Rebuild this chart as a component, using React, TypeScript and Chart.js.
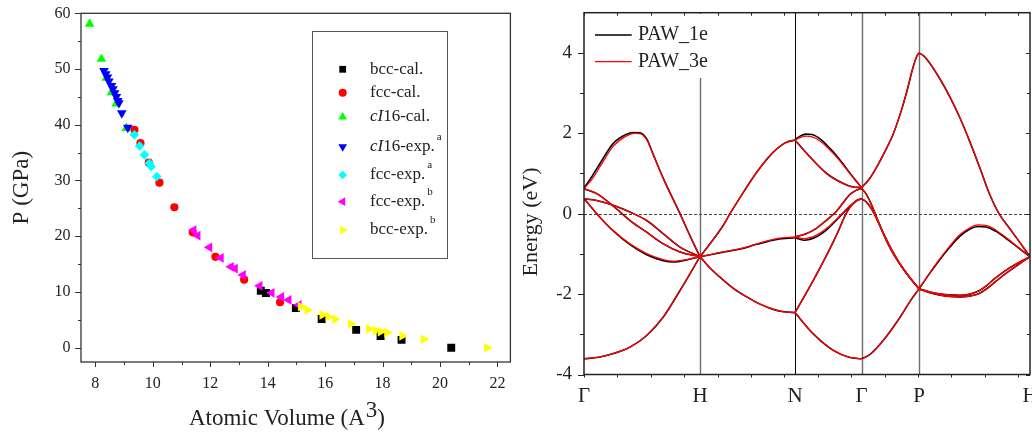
import React, { useEffect, useRef } from 'react';
import { Chart, registerables } from 'chart.js';

Chart.register(...registerables);

const FONT = '"Liberation Serif", "Times New Roman", serif';

// ---------------- Left panel: P vs atomic volume ----------------
const volTicks = [8, 10, 12, 14, 16, 18, 20, 22];
const pressureTicks = [0, 10, 20, 30, 40, 50, 60];

const bccCalV = [13.76, 13.94, 14.98, 15.88, 17.08, 17.93, 18.66, 20.39];
const bccCalP = [10.2, 9.8, 7.1, 5.15, 3.2, 2.1, 1.4, 0.0];
const fccCalV = [9.36, 9.57, 9.86, 10.23, 10.75, 11.39, 12.18, 13.18, 14.43];
const fccCalP = [39.1, 36.7, 33.2, 29.6, 25.2, 20.7, 16.3, 12.2, 8.15];
const cI16CalV = [7.8, 8.21, 8.38, 8.56, 8.73, 9.08];
const cI16CalP = [58.1, 51.8, 48.4, 45.8, 43.8, 39.4];
const cI16ExpV = [8.3, 8.36, 8.42, 8.47, 8.56, 8.61, 8.67, 8.73, 8.78, 8.82, 8.92, 9.13];
const cI16ExpP = [49.7, 49.1, 48.5, 47.8, 47.0, 46.4, 45.7, 45.0, 44.3, 43.9, 42.1, 39.5];
const fccExpAV = [9.36, 9.54, 9.71, 9.88, 9.94, 10.14];
const fccExpAP = [38.2, 36.2, 34.6, 33.1, 32.5, 30.7];
const fccExpBV = [11.42, 11.56, 11.97, 12.37, 12.72, 12.86, 13.14, 13.72, 14.14, 14.47, 14.73, 15.08];
const fccExpBP = [21.1, 20.1, 18.0, 16.1, 14.5, 14.2, 13.05, 11.1, 9.85, 9.1, 8.56, 7.67];
const bccExpBV = [15.15, 15.38, 15.9, 16.11, 16.34, 16.89, 17.52, 17.75, 17.93, 18.16, 18.68, 19.43, 21.63];
const bccExpBP = [7.37, 6.77, 5.87, 5.57, 5.1, 4.25, 3.36, 3.05, 2.87, 2.69, 2.1, 1.5, 0.0];

const seriesNames = ['bcc-cal.', 'fcc-cal.', 'cI16-cal.', 'cI16-exp.', 'fcc-exp.', 'fcc-exp.', 'bcc-exp.'];
const seriesSups = ['', '', '', 'a', 'a', 'b', 'b'];

// ---------------- Right panel: band structure ----------------
const kPos = [0, 116, 211, 277.5, 335, 446];
const kLabels = ['Γ', 'H', 'N', 'Γ', 'P', 'H'];
const energyTicks = [-4, -2, 0, 2, 4];

// Γ–H
const bandGH1 = [[0, -3.61], [15, -3.57], [29.3, -3.48], [46, -3.32], [62.7, -3.03], [79.3, -2.57], [96, -1.91], [116, -1.07]];
const bandGH2 = [[0, 0.37], [6, 0.2], [12.7, 0.0], [29.3, -0.42], [46, -0.75], [62.7, -0.99], [79.3, -1.14], [89.3, -1.18], [102.7, -1.14], [116, -1.07]];
const bandGH2_1e = [[0, 0.37], [6, 0.2], [12.7, 0.0], [29.3, -0.43], [46, -0.77], [62.7, -1.02], [79.3, -1.17], [89.3, -1.2], [102.7, -1.15], [116, -1.07]];
const bandGH3 = [[0, 0.62], [12.7, 0.5], [29.3, 0.19], [46, -0.17], [62.7, -0.46], [79.3, -0.75], [96, -0.95], [116, -1.07]];
const bandGH4 = [[0, 0.37], [12.7, 0.33], [29.3, 0.21], [46, 0.04], [62.7, -0.17], [79.3, -0.5], [96, -0.83], [116, -1.07]];
const bandGH5 = [[0, 0.62], [8, 0.86], [16, 1.17], [29.3, 1.68], [42, 1.93], [50, 2.0], [56, 1.99], [62.7, 1.84], [69.3, 1.46], [79.3, 0.87], [96, 0.0], [106, -0.55], [116, -1.07]];
const bandGH5_1e = [[0, 0.64], [8, 0.93], [16, 1.25], [29.3, 1.75], [42, 1.97], [50, 2.02], [56, 2.01], [62.7, 1.86], [69.3, 1.47], [79.3, 0.88], [96, 0.0], [106, -0.55], [116, -1.07]];
// H–N
const bandHN1 = [[116, -1.07], [126, -0.75], [139, -0.3], [146, 0.0], [156, 0.4], [172.7, 1.03], [189.3, 1.53], [202.7, 1.78], [211, 1.83]];
const bandHN2 = [[116, -1.07], [139, -0.95], [156, -0.87], [173, -0.75], [193, -0.62], [211, -0.58]];
const bandHN2_1e = [[116, -1.07], [139, -0.96], [156, -0.88], [173, -0.76], [193, -0.64], [211, -0.6]];
const bandHN3 = [[116, -1.07], [126, -1.35], [136, -1.58], [149, -1.85], [162.7, -2.07], [176, -2.25], [189.3, -2.38], [200, -2.44], [211, -2.46]];
// N–Γ
const bandNG1 = [[211, 1.83], [216, 1.89], [222, 1.93], [228, 1.91], [236, 1.81], [245, 1.61], [254, 1.37], [262, 1.12], [270, 0.87], [277.5, 0.65]];
const bandNG1_1e = [[211, 1.84], [216, 1.93], [222, 1.98], [228, 1.97], [236, 1.86], [245, 1.65], [254, 1.4], [262, 1.14], [270, 0.88], [277.5, 0.65]];
const bandNG2 = [[211, 1.83], [226, 1.41], [242.7, 1.0], [259.3, 0.75], [268, 0.67], [277.5, 0.65]];
const bandNG3 = [[211, -0.58], [222, -0.5], [232, -0.37], [242, -0.17], [252, 0.05], [260, 0.3], [266, 0.48], [272, 0.58], [277.5, 0.63]];
const bandNG4 = [[211, -0.58], [220, -0.62], [232, -0.54], [244, -0.34], [254, -0.1], [262, 0.1], [268, 0.24], [273, 0.33], [277.5, 0.37]];
const bandNG4_1e = [[211, -0.6], [220, -0.66], [232, -0.58], [244, -0.37], [254, -0.12], [262, 0.09], [268, 0.23], [273, 0.33], [277.5, 0.37]];
const bandNG5 = [[211, -2.46], [220, -2.07], [229.3, -1.66], [244.3, -0.95], [254, -0.45], [262, 0.0], [268, 0.22], [273, 0.33], [277.5, 0.37]];
const bandNG6 = [[211, -2.46], [229.3, -2.99], [249.3, -3.4], [265, -3.57], [277.5, -3.61]];
// Γ–P
const bandGP1 = [[277.5, 0.65], [285, 0.85], [292.7, 1.16], [301, 1.55], [309.3, 1.99], [318, 2.62], [324, 3.15], [328, 3.55], [331, 3.8], [333.5, 3.95], [335, 4.0]];
const bandGP2 = [[277.5, -3.61], [285, -3.52], [292.7, -3.34], [301, -3.1], [309.3, -2.82], [318, -2.5], [326, -2.18], [335, -1.87]];
const bandGP3 = [[277.5, 0.63], [282, 0.5], [287, 0.25], [292, -0.05], [298, -0.42], [306, -0.85], [315, -1.22], [325, -1.56], [335, -1.87]];
const bandGP4 = [[277.5, 0.37], [282, 0.3], [288, 0.1], [295, -0.25], [302, -0.62], [310, -1.0], [320, -1.4], [328, -1.66], [335, -1.87]];
// P–H
const bandPH1 = [[335, 4.0], [340, 3.92], [347, 3.7], [356, 3.35], [366, 2.9], [376, 2.38], [386, 1.78], [396, 1.13], [405, 0.52], [415, 0.0], [426, -0.38], [436, -0.72], [446, -1.07]];
const bandPH2 = [[335, -1.87], [345, -1.5], [355, -1.15], [366, -0.8], [376, -0.52], [386, -0.35], [394, -0.28], [402, -0.29], [412, -0.41], [424, -0.63], [435, -0.85], [446, -1.07]];
const bandPH2_1e = [[335, -1.87], [345, -1.51], [355, -1.17], [366, -0.83], [376, -0.56], [386, -0.38], [394, -0.32], [402, -0.33], [412, -0.44], [424, -0.65], [435, -0.86], [446, -1.07]];
const bandPH3 = [[335, -1.87], [345, -1.96], [355, -2.02], [366, -2.06], [376, -2.07], [386, -2.05], [394, -2.0], [402, -1.88], [410, -1.72], [420, -1.52], [433, -1.29], [446, -1.07]];
const bandPH4 = [[335, -1.87], [345, -1.94], [355, -1.99], [366, -2.02], [376, -2.03], [386, -2.0], [394, -1.93], [402, -1.8], [410, -1.63], [420, -1.44], [433, -1.24], [446, -1.07]];

const paw3eBands = [bandGH1, bandGH2, bandGH3, bandGH4, bandGH5, bandHN1, bandHN2, bandHN3, bandNG1, bandNG2, bandNG3, bandNG4, bandNG5, bandNG6, bandGP1, bandGP2, bandGP3, bandGP4, bandPH1, bandPH2, bandPH3, bandPH4];
const paw1eBands = [bandGH1, bandGH2_1e, bandGH3, bandGH4, bandGH5_1e, bandHN1, bandHN2_1e, bandHN3, bandNG1_1e, bandNG2, bandNG3, bandNG4_1e, bandNG5, bandNG6, bandGP1, bandGP2, bandGP3, bandGP4, bandPH1, bandPH2_1e, bandPH3, bandPH4];

// ---------------- helpers ----------------
function drawMarker(ctx: CanvasRenderingContext2D, style: string, rot: number, cx: number, cy: number, r: number, color: string) {
  ctx.fillStyle = color;
  ctx.beginPath();
  if (style === 'rect') {
    const s = r * Math.SQRT1_2;
    ctx.rect(cx - s, cy - s, 2 * s, 2 * s);
  } else if (style === 'circle') {
    ctx.arc(cx, cy, r, 0, Math.PI * 2);
  } else if (style === 'rectRot') {
    ctx.moveTo(cx - r, cy);
    ctx.lineTo(cx, cy - r);
    ctx.lineTo(cx + r, cy);
    ctx.lineTo(cx, cy + r);
    ctx.closePath();
  } else {
    let a = (rot * Math.PI) / 180;
    for (let i = 0; i < 3; i++) {
      const px = cx + Math.sin(a) * r;
      const py = cy - Math.cos(a) * r;
      if (i === 0) ctx.moveTo(px, py);
      else ctx.lineTo(px, py);
      a += (2 * Math.PI) / 3;
    }
    ctx.closePath();
  }
  ctx.fill();
}

const scatterSeries = [
  { v: bccCalV, p: bccCalP, color: '#000000', style: 'rect', rot: 0, r: 5.6 },
  { v: fccCalV, p: fccCalP, color: '#ff0000', style: 'circle', rot: 0, r: 4.1 },
  { v: cI16CalV, p: cI16CalP, color: '#00ff00', style: 'triangle', rot: 0, r: 5.6 },
  { v: cI16ExpV, p: cI16ExpP, color: '#0000ff', style: 'triangle', rot: 180, r: 5.6 },
  { v: fccExpAV, p: fccExpAP, color: '#00ffff', style: 'rectRot', rot: 0, r: 4.8 },
  { v: fccExpBV, p: fccExpBP, color: '#ff00ff', style: 'triangle', rot: -90, r: 5.6 },
  { v: bccExpBV, p: bccExpBP, color: '#ffff00', style: 'triangle', rot: 90, r: 5.6 },
];

const leftDecor = {
  id: 'leftDecor',
  afterDraw(chart: any) {
    const { ctx, chartArea: a } = chart;
    const x = chart.scales.x;
    const y = chart.scales.y;
    ctx.save();
    ctx.strokeStyle = '#333';
    ctx.lineWidth = 1;
    ctx.beginPath();
    for (let i = 0; i < pressureTicks.length; i++) {
      const p = pressureTicks[i];
      const py = Math.round(y.getPixelForValue(p)) + 0.5;
      ctx.moveTo(a.left - 6, py);
      ctx.lineTo(a.left, py);
      if (i < pressureTicks.length - 1) {
        const pm = Math.round(y.getPixelForValue((p + pressureTicks[i + 1]) / 2)) + 0.5;
        ctx.moveTo(a.left - 3, pm);
        ctx.lineTo(a.left, pm);
      }
    }
    for (let i = 0; i < volTicks.length; i++) {
      const v = volTicks[i];
      const px = Math.round(x.getPixelForValue(v)) + 0.5;
      ctx.moveTo(px, a.bottom);
      ctx.lineTo(px, a.bottom + 5);
      if (i < volTicks.length - 1) {
        const pm = Math.round(x.getPixelForValue((v + volTicks[i + 1]) / 2)) + 0.5;
        ctx.moveTo(pm, a.bottom);
        ctx.lineTo(pm, a.bottom + 3);
      }
    }
    ctx.stroke();
    ctx.lineWidth = 1.3;
    ctx.strokeRect(a.left, a.top, a.right - a.left, a.bottom - a.top);

    // legend
    const bx = 312.5, by = 31.5, bw = 135, bh = 227;
    ctx.fillStyle = '#ffffff';
    ctx.fillRect(bx, by, bw, bh);
    ctx.strokeStyle = '#555';
    ctx.lineWidth = 1;
    ctx.strokeRect(bx, by, bw, bh);
    const rowsY = [69.3, 92.7, 117, 146.7, 175, 201.7, 230];
    const legendR = [4.8, 4.0, 5.0, 5.0, 4.3, 5.0, 5.0];
    scatterSeries.forEach((s, i) => {
      const ry = rowsY[i];
      drawMarker(ctx, s.style, s.rot, 342.7, ry, legendR[i], s.color);
      ctx.fillStyle = '#222';
      ctx.textBaseline = 'middle';
      ctx.textAlign = 'left';
      let tx = 370;
      let label = seriesNames[i];
      if (label.startsWith('cI')) {
        ctx.font = `italic 17px ${FONT}`;
        ctx.fillText('cI', tx, ry);
        tx += ctx.measureText('cI').width;
        label = label.slice(2);
      }
      ctx.font = `17px ${FONT}`;
      ctx.fillText(label, tx, ry);
      tx += ctx.measureText(label).width;
      if (seriesSups[i]) {
        ctx.font = `11px ${FONT}`;
        ctx.fillText(seriesSups[i], tx + 2, ry - 10);
      }
    });

    // axis titles
    ctx.fillStyle = '#222';
    ctx.font = `23px ${FONT}`;
    ctx.save();
    ctx.translate(22, (a.top + a.bottom) / 2);
    ctx.rotate(-Math.PI / 2);
    ctx.textAlign = 'center';
    ctx.textBaseline = 'middle';
    ctx.fillText('P (GPa)', 0, 0);
    ctx.restore();

    ctx.textAlign = 'left';
    ctx.textBaseline = 'alphabetic';
    const main = 'Atomic Volume (A';
    const w1 = ctx.measureText(main).width;
    const w3 = ctx.measureText('3').width;
    const w4 = ctx.measureText(')').width;
    const total = w1 + 1 + w3 + w4;
    const sx = 287 - total / 2;
    ctx.fillText(main, sx, 425);
    ctx.fillText('3', sx + w1 + 1, 417);
    ctx.fillText(')', sx + w1 + 1 + w3, 425);
    ctx.restore();
  },
};

const MINOR_K = 33.4;

const rightDecor = {
  id: 'rightDecor',
  beforeDatasetsDraw(chart: any) {
    const { ctx, chartArea: a } = chart;
    const x = chart.scales.x;
    const y = chart.scales.y;
    ctx.save();
    for (let i = 1; i < kPos.length - 1; i++) {
      const px = Math.round(x.getPixelForValue(kPos[i])) + 0.5;
      const isN = kLabels[i] === 'N';
      ctx.strokeStyle = isN ? '#000' : '#6e6e6e';
      ctx.lineWidth = isN ? 1 : 1.4;
      ctx.beginPath();
      ctx.moveTo(px, a.top);
      ctx.lineTo(px, a.bottom);
      ctx.stroke();
    }
    const y0 = Math.round(y.getPixelForValue(0)) + 0.5;
    ctx.strokeStyle = '#444';
    ctx.lineWidth = 1;
    ctx.setLineDash([3, 2]);
    ctx.beginPath();
    ctx.moveTo(a.left, y0);
    ctx.lineTo(a.right, y0);
    ctx.stroke();
    ctx.restore();
  },
  afterDatasetsDraw(chart: any) {
    const { ctx } = chart;
    ctx.save();
    ctx.fillStyle = '#ffffff';
    ctx.fillRect(70, 14, 126, 64);
    const entries = [
      { label: 'PAW_1e', color: '#000000', y: 35 },
      { label: 'PAW_3e', color: '#ff0000', y: 61.7 },
    ];
    entries.forEach((e) => {
      ctx.strokeStyle = e.color;
      ctx.lineWidth = 1.3;
      ctx.beginPath();
      ctx.moveTo(79, e.y);
      ctx.lineTo(115.7, e.y);
      ctx.stroke();
      ctx.fillStyle = '#222';
      ctx.font = `20px ${FONT}`;
      ctx.textAlign = 'left';
      ctx.textBaseline = 'middle';
      ctx.fillText(e.label, 122, e.y);
    });
    ctx.restore();
  },
  afterDraw(chart: any) {
    const { ctx, chartArea: a } = chart;
    const x = chart.scales.x;
    const y = chart.scales.y;
    ctx.save();
    ctx.strokeStyle = '#222';
    ctx.lineWidth = 1;
    ctx.beginPath();
    for (let e = -4; e <= 4; e++) {
      const py = Math.round(y.getPixelForValue(e)) + 0.5;
      const major = e % 2 === 0;
      ctx.moveTo(a.left - (major ? 6 : 4), py);
      ctx.lineTo(a.left, py);
      ctx.moveTo(a.right, py);
      ctx.lineTo(a.right - (major ? 4 : 3), py);
    }
    for (let k = 0; k <= x.max + 0.01; k += MINOR_K) {
      const px = Math.round(x.getPixelForValue(k)) + 0.5;
      ctx.moveTo(px, a.bottom);
      ctx.lineTo(px, a.bottom + 3);
      ctx.moveTo(px, a.top);
      ctx.lineTo(px, a.top + 3);
    }
    ctx.stroke();
    ctx.lineWidth = 1.5;
    ctx.strokeRect(a.left, a.top, a.right - a.left, a.bottom - a.top);

    ctx.fillStyle = '#222';
    ctx.font = `22px ${FONT}`;
    ctx.translate(15, 222);
    ctx.rotate(-Math.PI / 2);
    ctx.textAlign = 'center';
    ctx.textBaseline = 'middle';
    ctx.fillText('Energy (eV)', 0, 0);
    ctx.restore();
  },
};

function zeroPad(s: any) {
  s.paddingLeft = 0;
  s.paddingRight = 0;
  s.paddingTop = 0;
  s.paddingBottom = 0;
}

const hiddenGrid = { display: false, drawTicks: false, tickLength: 0 };

function leftConfig(): any {
  return {
    type: 'scatter',
    data: {
      datasets: scatterSeries.map((s, i) => ({
        label: seriesNames[i] + seriesSups[i],
        data: s.v.map((v, j) => ({ x: v, y: s.p[j] })),
        pointStyle: s.style,
        pointRotation: s.rot,
        pointRadius: s.r,
        backgroundColor: s.color,
        borderColor: s.color,
        pointBorderWidth: 0,
        borderWidth: 0,
        order: scatterSeries.length - i,
      })),
    },
    options: {
      animation: false,
      responsive: false,
      events: [],
      layout: { padding: { left: 0, top: 13.3, right: 4, bottom: 0 } },
      plugins: { legend: { display: false }, tooltip: { enabled: false } },
      scales: {
        x: {
          type: 'linear',
          min: 7.5,
          max: 22.45,
          grid: hiddenGrid,
          border: { display: false },
          afterBuildTicks: (s: any) => {
            s.ticks = volTicks.map((v) => ({ value: v }));
          },
          afterFit: (s: any) => {
            s.height = 73;
            zeroPad(s);
          },
          ticks: {
            font: { family: FONT, size: 16 },
            color: '#222',
            padding: 12.5,
            maxRotation: 0,
            autoSkip: false,
            callback: (v: any) => String(v),
          },
        },
        y: {
          type: 'linear',
          min: -2.57,
          max: 60,
          grid: hiddenGrid,
          border: { display: false },
          afterBuildTicks: (s: any) => {
            s.ticks = pressureTicks.map((v) => ({ value: v }));
          },
          afterFit: (s: any) => {
            s.width = 81;
            zeroPad(s);
          },
          ticks: {
            font: { family: FONT, size: 16 },
            color: '#222',
            padding: 10.5,
            autoSkip: false,
            callback: (v: any) => String(v),
          },
        },
      },
    },
    plugins: [leftDecor],
  };
}

function rightConfig(): any {
  const mk = (bands: number[][][], label: string, color: string, width: number, order: number) =>
    bands.map((b) => ({
      label,
      data: b.map((p) => ({ x: p[0], y: p[1] })),
      borderColor: color,
      backgroundColor: color,
      borderWidth: width,
      pointRadius: 0,
      fill: false,
      cubicInterpolationMode: 'monotone',
      order,
    }));
  return {
    type: 'line',
    data: {
      datasets: [
        ...mk(paw3eBands, 'PAW_3e', '#ff0000', 1.3, 0),
        ...mk(paw1eBands, 'PAW_1e', '#000000', 1.6, 1),
      ],
    },
    options: {
      animation: false,
      responsive: false,
      events: [],
      layout: { padding: { left: 0, top: 12.7, right: 2, bottom: 0 } },
      plugins: { legend: { display: false }, tooltip: { enabled: false } },
      scales: {
        x: {
          type: 'linear',
          min: kPos[0],
          max: kPos[kPos.length - 1],
          grid: hiddenGrid,
          border: { display: false },
          afterBuildTicks: (s: any) => {
            s.ticks = kPos.map((v) => ({ value: v }));
          },
          afterFit: (s: any) => {
            s.height = 60.5;
            zeroPad(s);
          },
          ticks: {
            font: { family: FONT, size: 21 },
            color: '#222',
            padding: 9,
            maxRotation: 0,
            autoSkip: false,
            callback: (_v: any, i: number) => kLabels[i],
          },
        },
        y: {
          type: 'linear',
          min: -4,
          max: 5,
          grid: hiddenGrid,
          border: { display: false },
          afterBuildTicks: (s: any) => {
            s.ticks = energyTicks.map((v) => ({ value: v }));
          },
          afterFit: (s: any) => {
            s.width = 68;
            zeroPad(s);
          },
          ticks: {
            font: { family: FONT, size: 19 },
            color: '#222',
            padding: 12,
            autoSkip: false,
            callback: (v: any) => String(v),
          },
        },
      },
    },
    plugins: [rightDecor],
  };
}

export default function App() {
  const leftRef = useRef<HTMLCanvasElement>(null);
  const rightRef = useRef<HTMLCanvasElement>(null);
  useEffect(() => {
    const c1 = new Chart(leftRef.current as HTMLCanvasElement, leftConfig());
    const c2 = new Chart(rightRef.current as HTMLCanvasElement, rightConfig());
    return () => {
      c1.destroy();
      c2.destroy();
    };
  }, []);
  return (
    <div style={{ position: 'absolute', left: 0, top: 0, width: 1032, height: 435, background: '#ffffff', overflow: 'hidden' }}>
      <canvas ref={leftRef} width={516} height={435} style={{ position: 'absolute', left: 0, top: 0, width: 516, height: 435 }} />
      <canvas ref={rightRef} width={516} height={435} style={{ position: 'absolute', left: 516, top: 0, width: 516, height: 435 }} />
    </div>
  );
}
